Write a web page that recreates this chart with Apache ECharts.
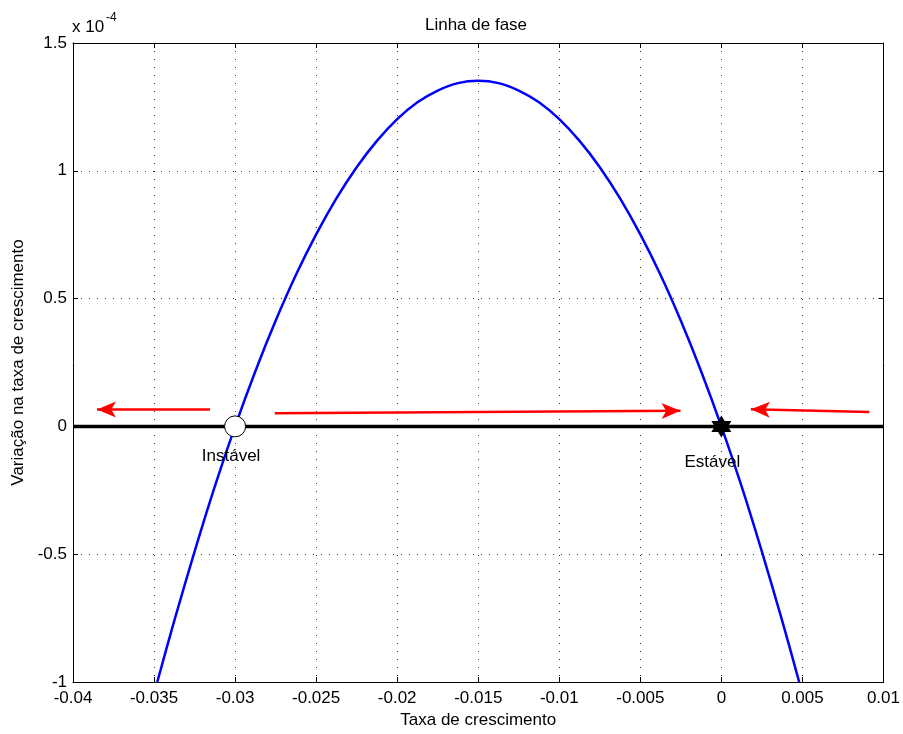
<!DOCTYPE html>
<html>
<head>
<meta charset="utf-8">
<script src="https://cdn.jsdelivr.net/npm/echarts@6/dist/echarts.min.js"></script>
<style>
  html, body { margin: 0; padding: 0; background: #fff; }
  #chart { width: 903px; height: 734px; }
</style>
</head>
<body>
<div id="chart"></div>
<script>
// curve values (y in units of 1e-4)
const curveX = [-0.0348, -0.03375, -0.0325, -0.03125, -0.03, -0.02875, -0.0275, -0.02625, -0.025, -0.02375,
  -0.0225, -0.02125, -0.02, -0.01875, -0.0175, -0.01625, -0.015, -0.01375, -0.0125, -0.01125,
  -0.01, -0.00875, -0.0075, -0.00625, -0.005, -0.00375, -0.0025, -0.00125, 0, 0.00125,
  0.0025, 0.00375, 0.0048]
const curveY = [-1.0, -0.76, -0.49, -0.235, 0, 0.216, 0.413, 0.592, 0.751, 0.892,
  1.014, 1.117, 1.202, 1.268, 1.314, 1.343, 1.352, 1.343, 1.314, 1.268,
  1.202, 1.117, 1.014, 0.892, 0.751, 0.592, 0.413, 0.216, 0, -0.235,
  -0.49, -0.76, -1.0]

const zeroLineX = [-0.04, 0.01]
const zeroLineY = [0, 0]

const unstablePoint = [-0.0300, 0]
const stablePoint = [0, 0]

// arrows: start -> tip
const arrowStart = [[-0.03155, 0.066], [-0.02755, 0.051], [0.00913, 0.056]]
const arrowEnd = [[-0.03852, 0.066], [-0.00252, 0.061], [0.00182, 0.067]]

const xMin = -0.04, xMax = 0.01, xStep = 0.005
const yMin = -1, yMax = 1.5, yStep = 0.5

const font = 'Liberation Sans, Arial, Helvetica, sans-serif'
const hexagram = 'path://M0,-1 L0.289,-0.5 L0.866,-0.5 L0.577,0 L0.866,0.5 L0.289,0.5 L0,1 L-0.289,0.5 L-0.866,0.5 L-0.577,0 L-0.866,-0.5 L-0.289,-0.5 Z'

const chart = echarts.init(document.getElementById('chart'))

const baseX = {
  type: 'value', min: xMin, max: xMax, interval: xStep,
  axisLine: { show: true, onZero: false, lineStyle: { color: '#000', width: 1 } },
  axisTick: { show: true, inside: true, length: 5, lineStyle: { color: '#000' } },
}
const baseY = {
  type: 'value', min: yMin, max: yMax, interval: yStep,
  axisLine: { show: true, onZero: false, lineStyle: { color: '#000', width: 1 } },
  axisTick: { show: true, inside: true, length: 5, lineStyle: { color: '#000' } },
}
const gridLine = { show: true, lineStyle: { color: '#333', width: 1, type: [1, 7] } }

chart.setOption({
  animation: false,
  backgroundColor: '#fff',
  title: {
    text: 'Linha de fase', left: 471, top: 12, textAlign: 'center',
    textStyle: { fontFamily: font, fontSize: 17, fontWeight: 'normal', color: '#000' },
  },
  grid: { left: 73, right: 18, top: 43, bottom: 52 },
  graphic: [
    { type: 'text', left: 72, top: 19, style: { text: 'x 10', font: '17px ' + font, fill: '#000' } },
    { type: 'text', left: 106, top: 12, style: { text: '-4', font: '12px ' + font, fill: '#000' } },
  ],
  xAxis: [
    {
      ...baseX, position: 'bottom',
      name: 'Taxa de crescimento', nameLocation: 'middle', nameGap: 29,
      nameTextStyle: { fontFamily: font, fontSize: 17, color: '#000' },
      axisLabel: {
        fontFamily: font, fontSize: 17, color: '#000', margin: 8,
        formatter: v => String(parseFloat(v.toFixed(3))),
      },
      splitLine: gridLine,
    },
    { ...baseX, position: 'top', axisLabel: { show: false }, splitLine: { show: false } },
  ],
  yAxis: [
    {
      ...baseY, position: 'left',
      name: 'Variação na taxa de crescimento', nameLocation: 'middle', nameGap: 44,
      nameTextStyle: { fontFamily: font, fontSize: 17, color: '#000' },
      axisLabel: {
        fontFamily: font, fontSize: 17, color: '#000', margin: 6,
        formatter: v => String(parseFloat(v.toFixed(1))),
      },
      splitLine: gridLine,
    },
    { ...baseY, position: 'right', axisLabel: { show: false }, splitLine: { show: false } },
  ],
  series: [
    {
      type: 'line', z: 2, symbol: 'none', smooth: 0.3,
      data: curveX.map((x, i) => [x, curveY[i]]),
      lineStyle: { color: '#0000ff', width: 2.5 },
    },
    {
      type: 'line', z: 3, symbol: 'none',
      data: zeroLineX.map((x, i) => [x, zeroLineY[i]]),
      lineStyle: { color: '#000', width: 3.5 },
    },
    {
      type: 'lines', coordinateSystem: 'cartesian2d', z: 4,
      symbol: ['none', 'arrow'], symbolSize: [0, [12, 19]],
      lineStyle: { color: '#ff0000', width: 2.5, opacity: 1 },
      itemStyle: { color: '#ff0000' },
      data: arrowStart.map((s, i) => ({ coords: [s, arrowEnd[i]] })),
    },
    {
      type: 'scatter', z: 5, symbol: 'circle', symbolSize: 21,
      itemStyle: { color: '#fff', borderColor: '#000', borderWidth: 1, opacity: 1 },
      label: {
        show: true, formatter: 'Instável', position: 'bottom', distance: 10, offset: [-4, 0],
        fontFamily: font, fontSize: 17, color: '#000',
      },
      data: [unstablePoint],
    },
    {
      type: 'scatter', z: 5, symbol: hexagram, symbolSize: [20, 22],
      itemStyle: { color: '#000', opacity: 1 },
      label: {
        show: true, formatter: 'Estável', position: 'bottom', distance: 16, offset: [-9, 0],
        fontFamily: font, fontSize: 17, color: '#000',
      },
      data: [stablePoint],
    },
  ],
})
</script>
</body>
</html>
